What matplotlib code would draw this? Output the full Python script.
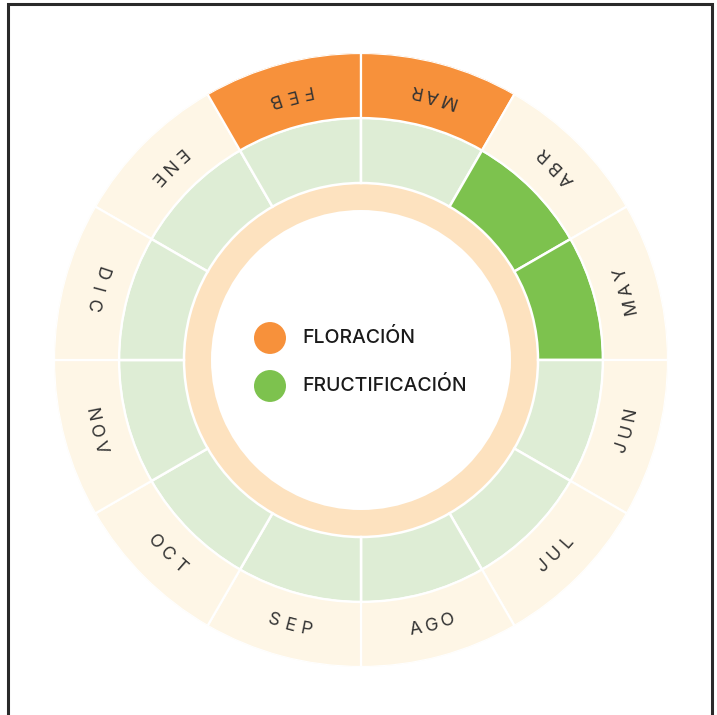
import numpy as np
import matplotlib
matplotlib.use("Agg")
import matplotlib.pyplot as plt
from matplotlib.patches import Rectangle, Circle

# ---- data ----
months = ["ENE", "FEB", "MAR", "ABR", "MAY", "JUN", "JUL", "AGO", "SEP", "OCT", "NOV", "DIC"]
floracion = [0, 1, 1, 0, 0, 0, 0, 0, 0, 0, 0, 0]
fructificacion = [0, 0, 0, 1, 1, 0, 0, 0, 0, 0, 0, 0]
legend_labels = ["FLORACIÓN", "FRUCTIFICACIÓN"]

# ---- style ----
C_ORANGE = "#F7913B"
C_GREEN = "#7DC24E"
C_LIGHTGREEN = "#DEEDD5"
C_CREAM = "#FEF6E6"
C_PEACH = "#FDE2BF"
C_TEXT = "#333333"

W, H = 717, 715
fig = plt.figure(figsize=(W / 100, H / 100), dpi=100)
fig.patch.set_facecolor("white")

cx, cy, R = 361, 360, 307
ax = fig.add_axes([(cx - R) / W, (H - cy - R) / H, 2 * R / W, 2 * R / H], projection="polar")
ax.set_theta_zero_location("N")
ax.set_theta_direction(-1)
ax.set_ylim(0, R)
ax.axis("off")

r_peach_in, r_peach_out = 150, 177
r_green_out = 242
r_outer = 307

n = len(months)
width = 2 * np.pi / n
start_idx = months.index("MAR")
thetas = np.array([((i - start_idx) % n) * width + width / 2 for i in range(n)])

# peach ring
ax.bar(0, r_peach_out - r_peach_in, width=2 * np.pi, bottom=r_peach_in,
       color=C_PEACH, edgecolor="none")

# inner (fruit) ring
inner_colors = [C_GREEN if f else C_LIGHTGREEN for f in fructificacion]
ax.bar(thetas, [r_green_out - r_peach_out] * n, width=width, bottom=r_peach_out,
       color=inner_colors, edgecolor="white", linewidth=1.8)

# outer (flower / label) ring
outer_colors = [C_ORANGE if f else C_CREAM for f in floracion]
ax.bar(thetas, [r_outer - r_green_out] * n, width=width, bottom=r_green_out,
       color=outer_colors, edgecolor="white", linewidth=1.6)

# month labels, tops toward centre, letter spaced
r_lab = 275
spacing = 0.062
for m, th in zip(months, thetas):
    k = len(m)
    for j, ch in enumerate(m):
        off = (j - (k - 1) / 2) * spacing
        ang = th - off
        ax.text(ang, r_lab, ch, rotation=180 - np.degrees(ang),
                rotation_mode="anchor", ha="center", va="center",
                fontsize=13, color=C_TEXT, family="Inter")

# legend in centre (figure coords)
leg_colors = [C_ORANGE, C_GREEN]
leg_y = [338, 386]
for lab, col, y in zip(legend_labels, leg_colors, leg_y):
    fig.patches.append(Circle((270 / W, 1 - y / H), 16 / W, transform=fig.transFigure,
                              facecolor=col, edgecolor="none"))
    fig.text(302 / W, 1 - y / H, lab, ha="left", va="center", fontsize=14,
             color="#1a1a1a", family="Inter", fontweight="medium")

# frame
fig.patches.append(Rectangle((8 / W, -0.05), (712 - 8) / W, (711 / H) + 0.05,
                             transform=fig.transFigure, fill=False,
                             edgecolor="#2a2a2a", linewidth=2.2))

fig.savefig("out.png", dpi=100, facecolor="white")
